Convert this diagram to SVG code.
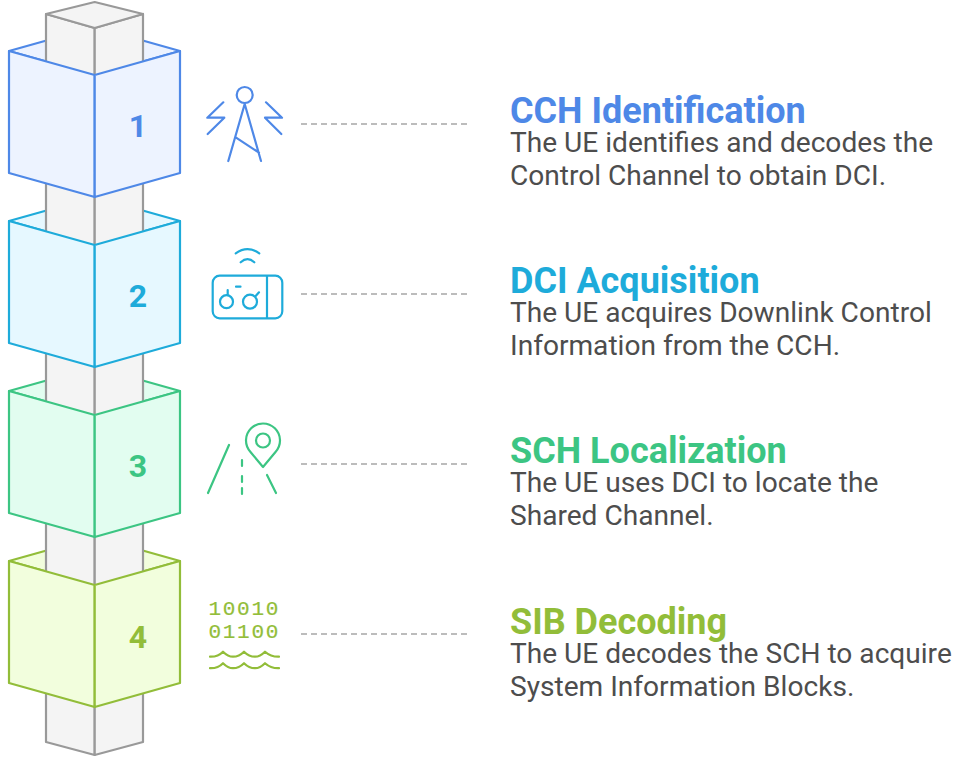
<svg xmlns="http://www.w3.org/2000/svg" width="956" height="760" viewBox="0 0 956 760">
<style>
text{font-family:Roboto,"Liberation Sans",sans-serif}
.t{font-size:36px;font-weight:700}
.b{font-size:28.100px;fill:#4d4d4d}
.n{font-size:32px;font-weight:700;text-anchor:middle}
.m{font-family:"Liberation Mono",monospace;font-size:21px;letter-spacing:1.700px;stroke-width:.2px}
.col{fill:#f4f4f4;stroke:#999;stroke-width:2.2;stroke-linejoin:round}
.face{stroke-width:2.2;stroke-linejoin:round}
.i{fill:none;stroke-width:2.2;stroke-linecap:round;stroke-linejoin:round}
.d{fill:none;stroke:#a6a6a6;stroke-width:1.5;stroke-dasharray:6 4}
.c1{stroke:#4e88e7}.f1{fill:#edf3ff}.x1{fill:#4e88e7}
.c2{stroke:#1eabda}.f2{fill:#e6f8ff}.x2{fill:#1eabda}
.c3{stroke:#3cc583}.f3{fill:#e2fdf0}.x3{fill:#3cc583}
.c4{stroke:#92bd39}.f4{fill:#f2fedd}.x4{fill:#92bd39}
</style>
<defs>
<polygon id="back" points="9,51 94.7,27 180,51 94.7,75"/>
<polygon id="fl" points="9,51 94.7,75 94.7,197 9,173"/>
<polygon id="fr" points="94.7,75 180,51 180,173 94.7,197"/>
</defs>
<g id="connectors">
<line class="d" x1="301" y1="124" x2="468" y2="124"/>
<line class="d" x1="301" y1="294" x2="468" y2="294"/>
<line class="d" x1="301" y1="464" x2="468" y2="464"/>
<line class="d" x1="301" y1="634" x2="468" y2="634"/>
</g>
<g id="column-base">
<use href="#back" class="face c1 f1"/>
<use href="#back" class="face c2 f2" y="170"/>
<use href="#back" class="face c3 f3" y="340"/>
<use href="#back" class="face c4 f4" y="510"/>
<polygon class="col" points="46,14 94.7,28 94.7,755 46,742"/>
<polygon class="col" points="94.7,28 143,14 143,742 94.7,755"/>
<polygon class="col" points="46,14 94.7,2 143,14 94.7,28"/>
</g>
<g id="node-4">
<use href="#fl" class="face c4 f4" y="510"/><use href="#fr" class="face c4 f4" y="510"/>
<text class="n x4" x="138" y="648">4</text>
<g class="i c4">
<path d="M210 656.700Q218 657 223 651.700Q228 656.700 233 656.700Q239 656.700 244 651.700Q249 656.700 255 656.700Q260 656.700 265 651.700Q271 657 279 656.700"/>
<path d="M210 668.200Q218 668.500 223 663.200Q228 668.200 233 668.200Q239 668.200 244 663.200Q249 668.200 255 668.200Q260 668.200 265 663.200Q271 668.500 279 668.200"/>
</g>
<text x="208.500" y="615" class="m x4 c4">10010</text>
<text x="208.500" y="638" class="m x4 c4">01100</text>
<text class="t x4" x="510" y="634">SIB Decoding</text>
<text class="b" x="510" y="663">The UE decodes the SCH to acquire</text>
<text class="b" x="510" y="696">System Information Blocks.</text>
</g>
<g id="node-3">
<use href="#fl" class="face c3 f3" y="340"/><use href="#fr" class="face c3 f3" y="340"/>
<text class="n x3" x="138" y="477">3</text>
<g class="i c3">
<path d="M229 445L208 493M267 475L276 493M242 460V466M242 476V482M242 488V494"/>
<path d="M263 467L250.500 452A17 17 0 1 1 275.500 452Z"/>
<circle cx="263" cy="440.500" r="7"/>
</g>
<text class="t x3" x="510" y="463">SCH Localization</text>
<text class="b" x="510" y="492">The UE uses DCI to locate the</text>
<text class="b" x="510" y="525">Shared Channel.</text>
</g>
<g id="node-2">
<use href="#fl" class="face c2 f2" y="170"/><use href="#fr" class="face c2 f2" y="170"/>
<text class="n x2" x="138" y="307">2</text>
<g class="i c2">
<rect x="212.700" y="275.700" width="69.600" height="42.600" rx="7"/>
<path d="M267 276V318M236 286.700H240.500M227.700 290V295M259 292.300L255.700 296"/>
<circle cx="226.500" cy="301.700" r="6.500"/><circle cx="250" cy="301.700" r="7"/>
<path d="M235.700 253.300Q247.500 245 259.300 253.300M240.700 262.300Q247.500 256 254.300 262.300"/>
</g>
<text class="t x2" x="510" y="293">DCI Acquisition</text>
<text class="b" x="510" y="322">The UE acquires Downlink Control</text>
<text class="b" x="510" y="355">Information from the CCH.</text>
</g>
<g id="node-1">
<use href="#fl" class="face c1 f1"/><use href="#fr" class="face c1 f1"/>
<text class="n x1" x="138" y="137">1</text>
<g class="i c1">
<circle cx="244.700" cy="95" r="8"/>
<path d="M244.700 104L228.300 161M244.700 104L261 161M235.700 137.300L259 152.700"/>
<path d="M223.300 102.300L207.300 117.700H224.300L207.700 134M266 102.300L282 117.700H265L281.300 134"/>
</g>
<text class="t x1" x="510" y="123">CCH Identification</text>
<text class="b" x="510" y="152">The UE identifies and decodes the</text>
<text class="b" x="510" y="185">Control Channel to obtain DCI.</text>
</g>
</svg>
